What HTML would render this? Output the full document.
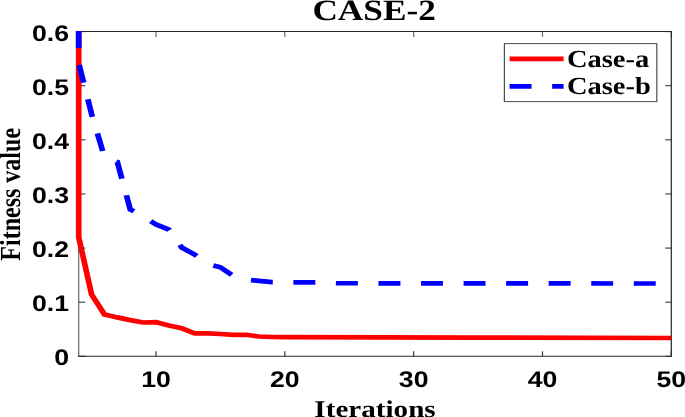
<!DOCTYPE html>
<html><head><meta charset="utf-8"><style>
html,body{margin:0;padding:0;background:#fff;width:685px;height:417px;overflow:hidden}
svg{display:block;will-change:transform}
text{text-rendering:geometricPrecision}
.sans{opacity:0.999;font-family:"Liberation Sans",sans-serif;font-weight:bold;fill:#000}
.serif{opacity:0.999;font-family:"Liberation Serif",serif;font-weight:bold;fill:#000}
</style></head><body>
<svg width="685" height="417" viewBox="0 0 564.716 417" preserveAspectRatio="none">
<defs><clipPath id="ax"><rect x="58.88" y="31.0" width="494.54" height="325.3"/></clipPath></defs>
<rect x="0" y="0" width="564.716" height="417" fill="#fff"/>
<g stroke="#262626" stroke-width="1" fill="none">
<line x1="128.60" y1="356.3" x2="128.60" y2="351.3" stroke="#3a3a3a"/><line x1="128.60" y1="31.6" x2="128.60" y2="36.9" stroke="#707070"/><line x1="234.81" y1="356.3" x2="234.81" y2="351.3" stroke="#3a3a3a"/><line x1="234.81" y1="31.6" x2="234.81" y2="36.9" stroke="#707070"/><line x1="341.01" y1="356.3" x2="341.01" y2="351.3" stroke="#3a3a3a"/><line x1="341.01" y1="31.6" x2="341.01" y2="36.9" stroke="#707070"/><line x1="447.22" y1="356.3" x2="447.22" y2="351.3" stroke="#3a3a3a"/><line x1="447.22" y1="31.6" x2="447.22" y2="36.9" stroke="#707070"/><line x1="553.42" y1="356.3" x2="553.42" y2="351.3" stroke="#3a3a3a"/><line x1="553.42" y1="31.6" x2="553.42" y2="36.9" stroke="#707070"/><line x1="553.42" y1="356.30" x2="548.42" y2="356.30"/><line x1="553.42" y1="302.18" x2="548.42" y2="302.18"/><line x1="553.42" y1="248.07" x2="548.42" y2="248.07"/><line x1="553.42" y1="193.95" x2="548.42" y2="193.95"/><line x1="553.42" y1="139.83" x2="548.42" y2="139.83"/><line x1="553.42" y1="85.72" x2="548.42" y2="85.72"/><line x1="553.42" y1="31.60" x2="548.42" y2="31.60"/>
<line x1="64.88" y1="31.6" x2="64.88" y2="356.3" stroke="#6a6a6a"/>
<line x1="64.88" y1="356.30" x2="70.38" y2="356.30"/><line x1="64.88" y1="302.18" x2="70.38" y2="302.18"/><line x1="64.88" y1="248.07" x2="70.38" y2="248.07"/><line x1="64.88" y1="193.95" x2="70.38" y2="193.95"/><line x1="64.88" y1="139.83" x2="70.38" y2="139.83"/><line x1="64.88" y1="85.72" x2="70.38" y2="85.72"/><line x1="64.88" y1="31.60" x2="70.38" y2="31.60"/>
<line x1="64.38" y1="31.6" x2="553.92" y2="31.6"/>
<line x1="64.38" y1="356.3" x2="553.92" y2="356.3"/>
<line x1="553.42" y1="31.6" x2="553.42" y2="356.3"/>
</g>
<g clip-path="url(#ax)" fill="none" stroke-linejoin="miter" stroke-miterlimit="10">
<polyline points="64.88,-200.00 64.88,237.20 75.50,294.50 86.12,314.40 96.74,317.40 107.36,320.10 117.98,322.50 128.60,322.20 139.22,325.50 149.84,328.30 160.46,333.40 171.08,333.40 181.71,334.00 192.33,334.80 202.95,334.80 213.57,336.50 224.19,337.00 234.81,337.20 394.11,337.60 553.42,338.00" stroke="#ff0000" stroke-width="4.7"/>
<polyline points="64.88,-200.00 64.88,63.00 75.50,114.00 86.12,157.00 96.74,162.00 107.36,209.50 117.98,216.00 128.60,224.50 139.22,229.50 149.84,247.50 160.46,254.50 171.08,264.00 181.71,267.30 192.33,276.00 202.95,279.80 213.57,280.90 224.19,282.20 234.81,282.30 266.67,282.40 277.29,283.20 341.01,283.40 553.42,283.50" stroke="#0000ff" stroke-width="4.7" stroke-dasharray="18.1 16.98" stroke-dashoffset="15.7"/>
</g>
<rect x="415.83" y="43.6" width="125.64" height="57.99999999999999" fill="#fff" stroke="#505050" stroke-width="1"/>
<line x1="420.12" y1="58.8" x2="464.63" y2="58.8" stroke="#ff0000" stroke-width="4.7"/>
<line x1="420.12" y1="86.3" x2="464.63" y2="86.3" stroke="#0000ff" stroke-width="4.7" stroke-dasharray="18.1 16.98"/>
<text class="sans" font-size="22.6" text-anchor="end" transform="translate(56.97,365.25) scale(0.9720,1)">0</text>
<text class="sans" font-size="22.6" text-anchor="end" transform="translate(56.97,311.13) scale(0.9720,1)">0.1</text>
<text class="sans" font-size="22.6" text-anchor="end" transform="translate(56.97,257.02) scale(0.9720,1)">0.2</text>
<text class="sans" font-size="22.6" text-anchor="end" transform="translate(56.97,202.90) scale(0.9720,1)">0.3</text>
<text class="sans" font-size="22.6" text-anchor="end" transform="translate(56.97,148.78) scale(0.9720,1)">0.4</text>
<text class="sans" font-size="22.6" text-anchor="end" transform="translate(56.97,94.67) scale(0.9720,1)">0.5</text>
<text class="sans" font-size="22.6" text-anchor="end" transform="translate(56.97,40.55) scale(0.9720,1)">0.6</text>
<text class="sans" font-size="22.6" text-anchor="middle" transform="translate(128.60,386.80) scale(0.9720,1)">10</text>
<text class="sans" font-size="22.6" text-anchor="middle" transform="translate(234.81,386.80) scale(0.9720,1)">20</text>
<text class="sans" font-size="22.6" text-anchor="middle" transform="translate(341.01,386.80) scale(0.9720,1)">30</text>
<text class="sans" font-size="22.6" text-anchor="middle" transform="translate(447.22,386.80) scale(0.9720,1)">40</text>
<text class="sans" font-size="22.6" text-anchor="middle" transform="translate(553.42,386.80) scale(0.9720,1)">50</text>
<text class="serif" font-size="29.5" text-anchor="middle" transform="translate(308.41,19.90) scale(0.9850,1)">CASE-2</text>
<text class="serif" font-size="24" text-anchor="middle" transform="translate(309.15,416.60) scale(1.0000,1)">Iterations</text>
<text class="serif" font-size="24" text-anchor="middle" transform="translate(16.90,194.3) rotate(-90)">Fitness value</text>
<text class="serif" font-size="24.5" text-anchor="start" transform="translate(467.35,66.90) scale(0.9600,1)">Case-a</text>
<text class="serif" font-size="24.5" text-anchor="start" transform="translate(467.35,93.70) scale(0.9600,1)">Case-b</text>
</svg>
</body></html>
